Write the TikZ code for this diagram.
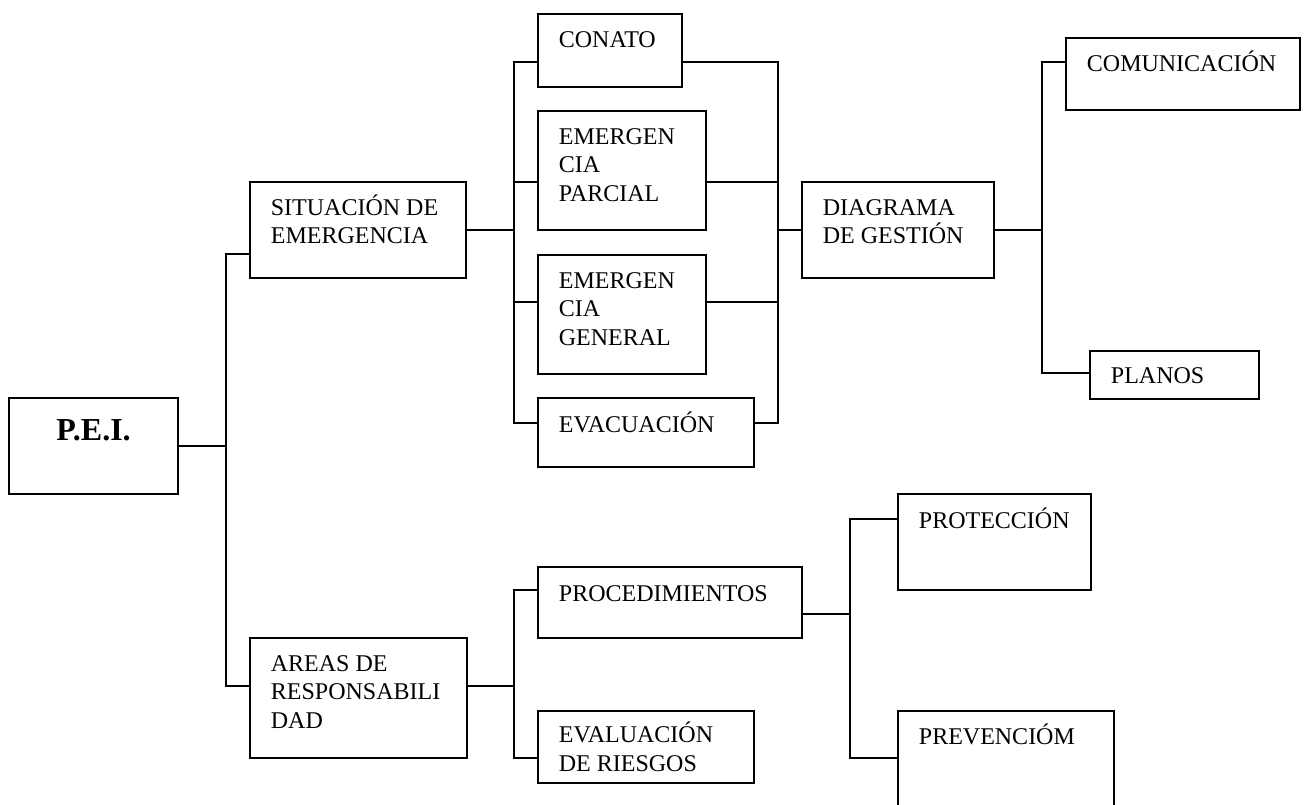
\documentclass[tikz,border=0pt]{standalone}
\usepackage{fontspec}
\setmainfont{Liberation Serif}
\tikzset{every picture/.style={line width=1.8pt}}
\tikzset{
  caja/.style={draw, inner sep=0pt, outer sep=0pt, anchor=north west},
  rotulo/.style={inner sep=0pt, anchor=base west, align=left,
    font=\fontsize{24}{28.5}\selectfont},
}

\begin{document}
\begin{tikzpicture}[x=1pt,y=-1pt]
\useasboundingbox (0,0) rectangle (1306,804);
\clip (0,0) rectangle (1306,804);

%Shape: Rectangles
\node[caja, minimum width=169, minimum height=96] (pei) at (9,398) {};
\node[caja, minimum width=216, minimum height=96] (sit) at (250,182) {};
\node[caja, minimum width=217, minimum height=120] (areas) at (250,638) {};
\node[caja, minimum width=144, minimum height=73] (conato) at (538,14) {};
\node[caja, minimum width=168, minimum height=119] (emparc) at (538,111) {};
\node[caja, minimum width=168, minimum height=119] (emgen) at (538,255) {};
\node[caja, minimum width=216, minimum height=69] (evac) at (538,398) {};
\node[caja, minimum width=192, minimum height=96] (diag) at (802,182) {};
\node[caja, minimum width=234, minimum height=72] (comu) at (1066,38) {};
\node[caja, minimum width=169, minimum height=48] (planos) at (1090,351) {};
\node[caja, minimum width=264, minimum height=71] (proced) at (538,567) {};
\node[caja, minimum width=216, minimum height=72] (evalr) at (538,711) {};
\node[caja, minimum width=193, minimum height=96] (protec) at (898,494) {};
\node[caja, minimum width=216, minimum height=100] (prevenc) at (898,711) {};

% Text Node
\node[inner sep=0pt, anchor=base, font=\fontsize{32}{36}\selectfont\bfseries] (peiT) at ([yshift=-42pt]pei.north) {P.E.I.};
% Text Node (two lines: base is on the last line)
\node[rotulo] (sitT) at ([xshift=20pt,yshift=-61.5pt]sit.north west) {SITUACIÓN DE\\EMERGENCIA};
% Text Node
\node[rotulo] (areasT) at ([xshift=20pt,yshift=-90pt]areas.north west) {AREAS DE\\RESPONSABILI\\DAD};
% Text Node
\node[rotulo] (conatoT) at ([xshift=20pt,yshift=-33pt]conato.north west) {CONATO};
% Text Node
\node[rotulo] (emparcT) at ([xshift=20pt,yshift=-90pt]emparc.north west) {EMERGEN\\CIA\\PARCIAL};
% Text Node
\node[rotulo] (emgenT) at ([xshift=20pt,yshift=-90pt]emgen.north west) {EMERGEN\\CIA\\GENERAL};
% Text Node
\node[rotulo] (evacT) at ([xshift=20pt,yshift=-34pt]evac.north west) {EVACUACIÓN};
% Text Node
\node[rotulo] (diagT) at ([xshift=20pt,yshift=-61.5pt]diag.north west) {DIAGRAMA\\DE GESTIÓN};
% Text Node
\node[rotulo] (comuT) at ([xshift=20pt,yshift=-33pt]comu.north west) {COMUNICACIÓN};
% Text Node
\node[rotulo] (planosT) at ([xshift=20pt,yshift=-32pt]planos.north west) {PLANOS};
% Text Node
\node[rotulo] (procedT) at ([xshift=20pt,yshift=-34pt]proced.north west) {PROCEDIMIENTOS};
% Text Node
\node[rotulo] (evalrT) at ([xshift=20pt,yshift=-60pt]evalr.north west) {EVALUACIÓN\\DE RIESGOS};
% Text Node
\node[rotulo] (protecT) at ([xshift=20pt,yshift=-34pt]protec.north west) {PROTECCIÓN};
% Text Node
\node[rotulo] (prevencT) at ([xshift=20pt,yshift=-33pt]prevenc.north west) {PREVENCIÓM};

%Bus lines
\coordinate (trunk) at (226,446);
\coordinate (busA) at (514,230);
\coordinate (busB) at (778,230);
\coordinate (busC) at (1042,230);
\coordinate (busD) at (514,686);
\coordinate (busE) at (850,614);

%Connection points
\coordinate (sitL) at ([yshift=-72pt]sit.north west);
\coordinate (areasL) at ([yshift=-48pt]areas.north west);
\coordinate (areasR) at ([yshift=-48pt]areas.north east);
\coordinate (conatoL) at ([yshift=-48pt]conato.north west);
\coordinate (conatoR) at ([yshift=-48pt]conato.north east);
\coordinate (emparcL) at ([yshift=-71pt]emparc.north west);
\coordinate (emparcR) at ([yshift=-71pt]emparc.north east);
\coordinate (emgenL) at ([yshift=-47pt]emgen.north west);
\coordinate (emgenR) at ([yshift=-47pt]emgen.north east);
\coordinate (evacL) at ([yshift=-25pt]evac.north west);
\coordinate (evacR) at ([yshift=-25pt]evac.north east);
\coordinate (comuL) at ([yshift=-24pt]comu.north west);
\coordinate (planosL) at ([yshift=-22pt]planos.north west);
\coordinate (procedL) at ([yshift=-23pt]proced.north west);
\coordinate (procedR) at ([yshift=-47pt]proced.north east);
\coordinate (evalrL) at ([yshift=-47pt]evalr.north west);
\coordinate (protecL) at ([yshift=-25pt]protec.north west);
\coordinate (prevencL) at ([yshift=-47pt]prevenc.north west);

%Straight Lines
\draw (pei.east) -- (trunk);
\draw (sitL) -| (trunk) |- (areasL);
\draw (sit.east) -- (busA);
\draw (conatoL) -| (busA) |- (evacL);
\draw (emparcL) -- (emparcL -| busA);
\draw (emgenL) -- (emgenL -| busA);
\draw (conatoR) -| (busB) |- (evacR);
\draw (emparcR) -- (emparcR -| busB);
\draw (emgenR) -- (emgenR -| busB);
\draw (busB) -- (diag.west);
\draw (diag.east) -- (busC);
\draw (comuL) -| (busC) |- (planosL);
\draw (areasR) -- (busD);
\draw (procedL) -| (busD) |- (evalrL);
\draw (procedR) -- (busE);
\draw (protecL) -| (busE) |- (prevencL);

\end{tikzpicture}
\end{document}
